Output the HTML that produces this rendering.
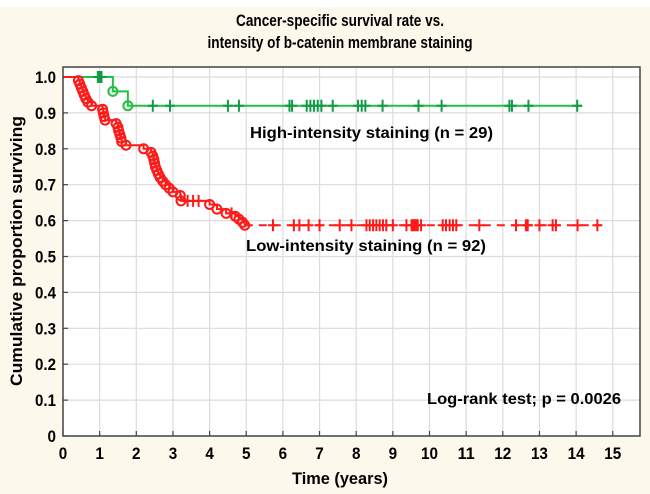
<!DOCTYPE html>
<html><head><meta charset="utf-8"><style>
html,body{margin:0;padding:0;background:#fdf8ec;}
svg{display:block;font-family:"Liberation Sans",Arial,sans-serif;font-weight:bold;}
</style></head><body>
<svg id="chart" width="650" height="494" viewBox="0 0 650 494">
<rect x="0" y="0" width="650" height="7" fill="#ffffff"/>
<text x="340" y="26" text-anchor="middle" font-size="17" textLength="208" lengthAdjust="spacingAndGlyphs">Cancer-specific survival rate vs.</text>
<text x="340" y="48" text-anchor="middle" font-size="17" textLength="265" lengthAdjust="spacingAndGlyphs">intensity of b-catenin membrane staining</text>
<rect x="63" y="67" width="577" height="369" fill="#ffffff"/>
<g id="grid"></g>
<g id="axes"></g>
<g id="series"></g>
<rect x="63" y="67" width="577" height="369" fill="none" stroke="#444" stroke-width="1.5"/>
<text x="250" y="138" font-size="16" textLength="243" lengthAdjust="spacingAndGlyphs">High-intensity staining (n = 29)</text>
<text x="246" y="251" font-size="16" textLength="240" lengthAdjust="spacingAndGlyphs">Low-intensity staining (n = 92)</text>
<text x="621" y="404" text-anchor="end" font-size="16" textLength="194" lengthAdjust="spacingAndGlyphs">Log-rank test; p = 0.0026</text>
<text x="340" y="484" text-anchor="middle" font-size="17" textLength="96" lengthAdjust="spacingAndGlyphs">Time (years)</text>
<text transform="translate(22,251) rotate(-90)" text-anchor="middle" font-size="17" textLength="270" lengthAdjust="spacingAndGlyphs">Cumulative proportion surviving</text>
</svg>
<script>
const xTicks=[0,1,2,3,4,5,6,7,8,9,10,11,12,13,14,15];
const yTicks=[0,0.1,0.2,0.3,0.4,0.5,0.6,0.7,0.8,0.9,1.0];
const yTickLabels=["0","0.1","0.2","0.3","0.4","0.5","0.6","0.7","0.8","0.9","1.0"];
// High-intensity group: event times and survival after event
const highEventTimes=[1.36,1.77];
const highEventSurv=[0.96,0.92];
const highCensorTimes=[0.95,1.0,1.05,2.45,2.92,4.5,4.8,6.18,6.25,6.65,6.75,6.85,6.95,7.05,7.36,8.05,8.15,8.25,8.72,9.7,10.33,12.18,12.25,12.7,14.03];
const highEnd=14.17;
// Low-intensity group
const lowEventTimes=[0.42,0.46,0.5,0.54,0.58,0.62,0.68,0.78,1.08,1.1,1.12,1.15,1.45,1.5,1.52,1.55,1.58,1.6,1.72,2.2,2.4,2.45,2.48,2.5,2.52,2.56,2.6,2.65,2.72,2.8,2.9,3.0,3.2,3.22,4.0,4.2,4.45,4.7,4.8,4.9,4.96];
const lowEventSurv=[0.99,0.98,0.97,0.96,0.95,0.94,0.93,0.92,0.91,0.9,0.89,0.88,0.87,0.86,0.85,0.84,0.83,0.82,0.81,0.8,0.79,0.78,0.77,0.76,0.75,0.74,0.73,0.72,0.71,0.7,0.69,0.68,0.67,0.655,0.645,0.632,0.62,0.612,0.604,0.595,0.587];
const lowCensorTimes=[3.4,3.55,3.7,4.6,5.73,6.3,6.45,6.7,7.0,7.55,7.87,8.28,8.37,8.46,8.55,8.64,8.73,8.82,9.0,9.37,9.51,9.55,9.6,9.64,9.68,9.77,10.36,10.45,10.55,10.64,10.73,11.36,12.36,12.63,12.68,13.0,13.36,13.45,14.04,14.58];
const lowEnd=14.7;

const NS="http://www.w3.org/2000/svg";
const X0=63,PX=36.65,Y0=436,PY=359;
const sx=t=>X0+t*PX, sy=v=>Y0-v*PY;
function mk(tag,attrs,parent){const e=document.createElementNS(NS,tag);for(const k in attrs)e.setAttribute(k,attrs[k]);parent.appendChild(e);return e;}
function lw(s){let w=0;for(const c of s)w+=(c==='.')?4:8.5;return w;}
const grid=document.getElementById('grid'),axes=document.getElementById('axes'),ser=document.getElementById('series');
xTicks.forEach(t=>{
  const l=mk('line',{x1:sx(t),x2:sx(t),y1:67,y2:436,stroke:'#dcdcdc','stroke-width':1.2},grid);
  
  
  const tk=mk('line',{x1:sx(t),x2:sx(t),y1:436,y2:431,stroke:'#444','stroke-width':1.2},axes);
  
  
  const s=String(t);
  const tx=mk('text',{x:sx(t),y:459,'text-anchor':'middle','font-size':17,textLength:lw(s),lengthAdjust:'spacingAndGlyphs'},axes);
  tx.textContent=s;
  
  
});
yTicks.forEach((v,i)=>{
  const l=mk('line',{x1:63,x2:640,y1:sy(v),y2:sy(v),stroke:'#dcdcdc','stroke-width':1.2},grid);
  
  
  const tk=mk('line',{x1:63,x2:68,y1:sy(v),y2:sy(v),stroke:'#444','stroke-width':1.2},axes);
  
  
  const s=yTickLabels[i];
  const tx=mk('text',{x:56,y:sy(v)+6,'text-anchor':'end','font-size':17,textLength:lw(s),lengthAdjust:'spacingAndGlyphs'},axes);
  tx.textContent=s;
  
  
});
function survAt(times,surv,t){let s=1;for(let i=0;i<times.length;i++){if(times[i]<=t)s=surv[i];}return s;}
function drawGroup(times,surv,censors,end,color,cColor,name,dashAfterLast){
  let d='M'+sx(0)+','+sy(1);let s=1;
  times.forEach((t,i)=>{d+=' H'+sx(t)+' V'+sy(surv[i]);s=surv[i];});
  const last=times[times.length-1];
  if(dashAfterLast){
    const p=mk('path',{d:d,fill:'none',stroke:color,'stroke-width':2},ser);
    
    
    const p2=mk('path',{d:'M'+sx(last)+','+sy(s)+' H'+sx(end),fill:'none',stroke:color,'stroke-width':2,'stroke-dasharray':'8,6'},ser);
    
    
  } else {
    d+=' H'+sx(end);
    const p=mk('path',{d:d,fill:'none',stroke:color,'stroke-width':2},ser);
    
    
  }
  times.forEach((t,i)=>{
    const c=mk('circle',{cx:sx(t),cy:sy(surv[i]),r:4.5,fill:'none',stroke:color,'stroke-width':2},ser);
    
    
  });
  censors.forEach(t=>{
    const y=sy(survAt(times,surv,t)),x=sx(t);
    const c=mk('path',{d:'M'+x+','+(y-6)+' V'+(y+6)+' M'+(x-5)+','+y+' H'+(x+5),stroke:cColor,'stroke-width':2,fill:'none'},ser);
    
    
  });
}
drawGroup(highEventTimes,highEventSurv,highCensorTimes,highEnd,'#22c040','#109a45','high-intensity',false);
drawGroup(lowEventTimes,lowEventSurv,lowCensorTimes,lowEnd,'#ff1a1a','#ff1a1a','low-intensity',true);
</script>
</body></html>
